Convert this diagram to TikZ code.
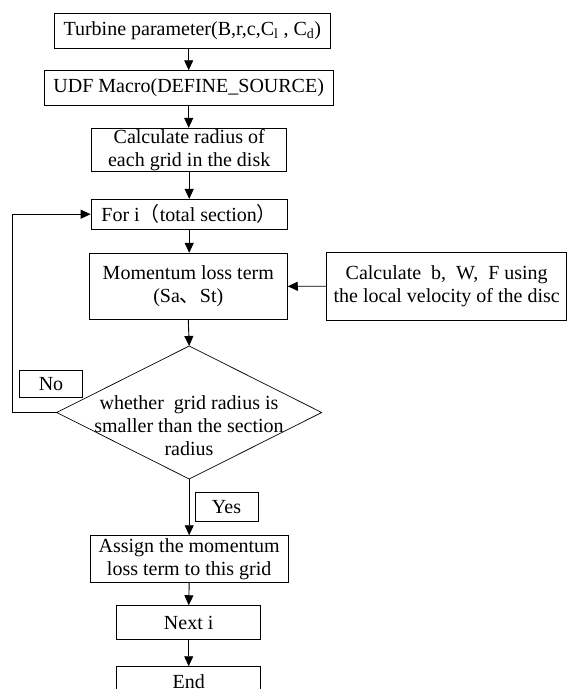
\documentclass[tikz,border=0pt]{standalone}
\usepackage{fontspec}
\setmainfont{Liberation Serif}
\newfontfamily\cjk{Noto Sans CJK SC}
\usetikzlibrary{arrows.meta}
\begin{document}
\begin{tikzpicture}[x=1pt,y=-1pt,
  box/.style={draw, line width=0.9pt, inner sep=0pt, align=center, font=\fontsize{20}{23}\selectfont},
  arr/.style={line width=0.9pt, -{Triangle[length=10pt,width=9pt]}},
  ln/.style={line width=0.9pt},
  dia/.style={line width=0.7pt}]
\useasboundingbox (0,0) rectangle (567,689);
\clip (0,0) rectangle (567,689);
\node[box, minimum width=276.7, minimum height=35] (tp) at (192.3,30.8) {Turbine parameter(B,r,c,C\textsubscript{l} , C\textsubscript{d})};
\node[box, minimum width=288.7, minimum height=34.6] (udf) at (188.7,88) {UDF Macro(DEFINE\_SOURCE)};
\node[box, minimum width=195, minimum height=43.4] (rad) at (189.2,150) {Calculate radius of\\each grid in the disk};
\node[box, minimum width=196.3, minimum height=29.7] (for) at (189.2,214.2) {For i{\cjk （}total section{\cjk ）}};
\node[box, minimum width=198, minimum height=66] (mom) at (188.3,286.3) {Momentum loss term\\(Sa{\cjk 、}St)};
\node[box, minimum width=240, minimum height=67.7] (calc) at (446.7,286.2) {Calculate\ \ b,\ \ W,\ \ F using\\the local velocity of the disc};
\coordinate (dtop) at (189.2,346);
\coordinate (dleft) at (56.7,412.5);
\coordinate (dright) at (321.7,412.5);
\coordinate (dbot) at (189.2,479);
\draw[dia] (dtop) -- (dright) -- (dbot) -- (dleft) -- cycle;
\node[align=center, inner sep=0pt, font=\fontsize{20}{23}\selectfont] (dq) at (189,426) {whether\ \ grid radius is\\smaller than the section\\radius};
\node[box, minimum width=63.4, minimum height=27.3] (no) at (51,383.7) {No};
\node[box, minimum width=63, minimum height=29] (yes) at (226.5,506.8) {Yes};
\node[box, minimum width=198, minimum height=47] (asg) at (189.2,559.2) {Assign the momentum\\loss term to this grid};
\node[box, minimum width=144, minimum height=33.6] (next) at (188.7,622.5) {Next i};
\node[box, minimum width=144, minimum height=30] (end) at (188.7,681.7) {End};
\coordinate (loopc) at (12.3,412.5);
\draw[arr] (tp.south -| udf) -- (udf.north);
\draw[arr] (udf.south) -- (udf.south |- rad.north);
\draw[arr] (rad.south) -- (for.north);
\draw[arr] (for.south) -- (for.south |- mom.north);
\draw[arr] (mom.south) -- (dtop);
\draw[arr] (calc.west) -- (mom.east);
\draw[arr] (dleft) -- (loopc) |- (for.west);
\draw[arr] (dbot) -- (asg.north);
\draw[arr] (asg.south) -- (next.north);
\draw[arr] (next.south) -- (end.north);
\end{tikzpicture}
\end{document}
